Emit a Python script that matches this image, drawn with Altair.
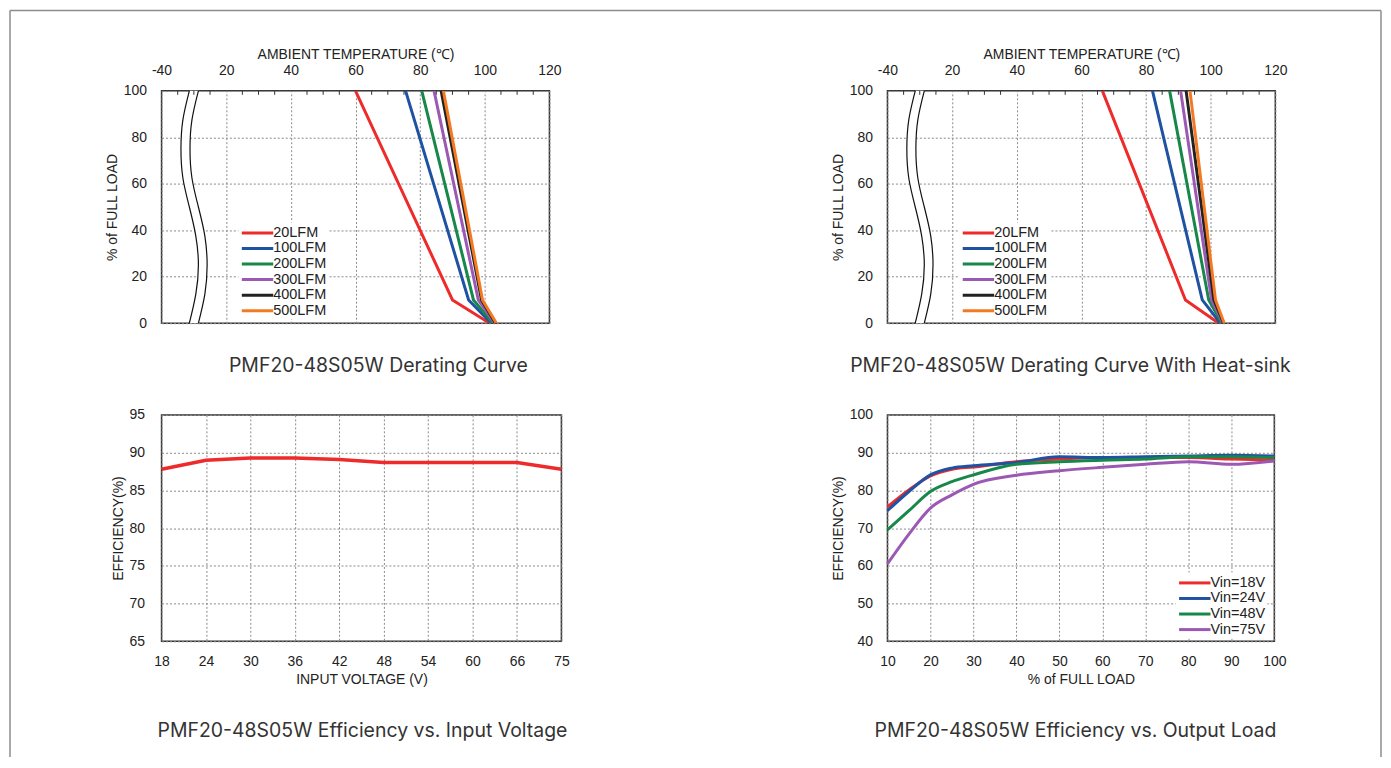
import altair as alt
import pandas as pd

FONT = "Liberation Sans"
CAP_FONT = "Inter"
TXT = "#222222"

# ---------------- data ----------------
airflow = ["20LFM", "100LFM", "200LFM", "300LFM", "400LFM", "500LFM"]
airflow_colors = ["#ee2a2a", "#1f52a3", "#17874a", "#9b59b4", "#222222", "#f47a22"]
load_pts = [100, 10, 0]

# derating without heat-sink: temperature at 100 %, 10 %, 0 % load
t_nohs_20 = [60.0, 90.0, 101.5]
t_nohs_100 = [75.5, 95.0, 102.0]
t_nohs_200 = [80.5, 96.5, 102.5]
t_nohs_300 = [84.3, 98.0, 103.0]
t_nohs_400 = [86.5, 99.0, 103.3]
t_nohs_500 = [87.2, 99.3, 103.6]

# derating with heat-sink
t_hs_20 = [66.5, 92.2, 102.5]
t_hs_100 = [82.0, 97.4, 103.0]
t_hs_200 = [87.3, 99.4, 103.5]
t_hs_300 = [90.7, 100.3, 103.8]
t_hs_400 = [92.4, 101.0, 104.0]
t_hs_500 = [93.6, 101.5, 104.2]

temp_ticks = [0, 20, 40, 60, 80, 100, 120]
minor_ticks = [5, 10, 15, 25, 30, 35, 45, 50, 55, 65, 70, 75, 85, 90, 95, 105, 110, 115]

# axis-break symbol (double wavy line)
brk_load = [0, 12.5, 25, 37.5, 50, 62.5, 75, 87.5, 100]
brk_left = [8.6, 10.6, 11.4, 10.6, 8.6, 6.6, 6.0, 6.6, 8.6]
brk_right = [11.4, 13.4, 14.1, 13.4, 11.4, 9.4, 8.8, 9.4, 11.4]

# efficiency vs input voltage
vin_labels = ["18", "24", "30", "36", "42", "48", "54", "60", "66", "75"]
eff_vin = [87.8, 89.0, 89.3, 89.3, 89.1, 88.7, 88.7, 88.7, 88.7, 87.8]

# efficiency vs output load
vin_series = ["Vin=18V", "Vin=24V", "Vin=48V", "Vin=75V"]
vin_colors = ["#ee2a2a", "#1f52a3", "#17874a", "#9b59b4"]
loads = [10, 15, 20, 25, 30, 40, 50, 60, 70, 80, 90, 100]
eff_18 = [75.6, 80.1, 83.8, 85.6, 86.2, 87.6, 88.3, 88.7, 88.7, 88.7, 88.3, 88.0]
eff_24 = [74.6, 79.7, 84.1, 85.9, 86.5, 87.4, 88.9, 88.7, 88.9, 89.1, 89.3, 89.1]
eff_48 = [69.5, 74.6, 79.7, 82.3, 84.1, 86.9, 87.6, 88.0, 88.3, 88.9, 88.9, 88.7]
eff_75 = [60.5, 68.4, 75.3, 78.8, 81.6, 84.0, 85.2, 86.1, 86.9, 87.6, 86.9, 87.8]

# ---------------- helpers ----------------
GRID = dict(grid=True, gridColor="#8a8a8a", gridDash=[2, 2], gridWidth=1, labelFlush=False)


def legend(x, y):
    return alt.Legend(title=None, orient="none", legendX=x, legendY=y,
                      fillColor="white", padding=2,
                      symbolType="M-1,0H3.5", symbolSize=196,
                      symbolStrokeWidth=3, labelFontSize=14.5,
                      labelFont=FONT, labelColor=TXT,
                      labelOffset=16, rowPadding=0.6)


def caption(text, dx, offset):
    return alt.TitleParams(text, orient="bottom", anchor="middle", frame="group",
                           font=CAP_FONT, fontSize=19.5, fontWeight="normal",
                           color="#333333", offset=offset, dx=dx)


def derating(series_temps, title, dx, lx):
    rows = []
    for name, temps in zip(airflow, series_temps):
        for t, l in zip(temps, load_pts):
            rows.append({"series": name, "temp": t, "load": l})
    df = pd.DataFrame(rows)
    xs = alt.Scale(domain=[0, 120], nice=False, zero=False)
    ys = alt.Scale(domain=[0, 100], nice=False)

    brk = pd.DataFrame({"load": brk_load, "temp": brk_left, "temp2": brk_right})
    brk_long = pd.concat([
        pd.DataFrame({"load": brk_load, "temp": brk_left, "side": "l"}),
        pd.DataFrame({"load": brk_load, "temp": brk_right, "side": "r"}),
    ])
    ticks = pd.DataFrame({"temp": minor_ticks})

    xaxis = alt.Axis(orient="top", values=temp_ticks,
                     labelExpr="datum.value == 0 ? '-40' : datum.label",
                     title="AMBIENT TEMPERATURE (\u2103)",
                     labelPadding=13, titlePadding=2, **GRID)
    yaxis = alt.Axis(values=[0, 20, 40, 60, 80, 100], title="% of FULL LOAD",
                     labelPadding=15, titlePadding=4, **GRID)

    lines = alt.Chart(df).mark_line(strokeWidth=3, clip=True).encode(
        x=alt.X("temp:Q", scale=xs, axis=xaxis),
        y=alt.Y("load:Q", scale=ys, axis=yaxis),
        color=alt.Color("series:N", scale=alt.Scale(domain=airflow, range=airflow_colors),
                        legend=legend(lx, 132)),
        order=alt.Order("load:Q", sort="descending"),
    )
    area = alt.Chart(brk).mark_area(orient="horizontal", color="white", interpolate="natural").encode(
        y=alt.Y("load:Q", scale=ys, axis=yaxis),
        x=alt.X("temp:Q", scale=xs, axis=xaxis),
        x2="temp2:Q",
    )
    wave = alt.Chart(brk_long).mark_line(interpolate="natural", color="#111111", strokeWidth=1.2).encode(
        x=alt.X("temp:Q", scale=xs, axis=xaxis),
        y=alt.Y("load:Q", scale=ys, axis=yaxis),
        detail="side:N",
        order="load:Q",
    )
    mt = alt.Chart(ticks).mark_rule(color="#333333", strokeWidth=1).encode(
        x=alt.X("temp:Q", scale=xs, axis=xaxis),
        y=alt.value(0), y2=alt.value(4),
    )
    return alt.layer(area, wave, mt, lines).properties(
        width=389, height=233, title=caption(title, dx, 27))


tl = derating([t_nohs_20, t_nohs_100, t_nohs_200, t_nohs_300, t_nohs_400, t_nohs_500],
              "PMF20-48S05W Derating Curve", 23, 77)
tr = derating([t_hs_20, t_hs_100, t_hs_200, t_hs_300, t_hs_400, t_hs_500],
              "PMF20-48S05W Derating Curve With Heat-sink", -11, 72)

df_vin = pd.DataFrame({"vin": vin_labels, "eff": eff_vin})
bl = alt.Chart(df_vin).mark_line(color="#ee2a2a", strokeWidth=3.5).encode(
    x=alt.X("vin:O", sort=vin_labels, scale=alt.Scale(type="point", padding=0),
            axis=alt.Axis(labelAngle=0, title="INPUT VOLTAGE (V)", labelPadding=13,
                          titlePadding=4, **GRID)),
    y=alt.Y("eff:Q", scale=alt.Scale(domain=[65, 95], nice=False, zero=False),
            axis=alt.Axis(values=[65, 70, 75, 80, 85, 90, 95], title="EFFICIENCY(%)",
                          labelPadding=17, titlePadding=4, **GRID)),
).properties(width=401, height=227,
             title=caption("PMF20-48S05W Efficiency vs. Input Voltage", 1, 36))

rows = []
for name, vals in zip(vin_series, [eff_18, eff_24, eff_48, eff_75]):
    for l, e in zip(loads, vals):
        rows.append({"series": name, "load": l, "eff": e})
df_load = pd.DataFrame(rows)
br = alt.Chart(df_load).mark_line(strokeWidth=3, interpolate="monotone").encode(
    x=alt.X("load:Q", scale=alt.Scale(domain=[10, 100], nice=False, zero=False),
            axis=alt.Axis(values=list(range(10, 101, 10)), title="% of FULL LOAD",
                          labelPadding=13, titlePadding=4, **GRID)),
    y=alt.Y("eff:Q", scale=alt.Scale(domain=[40, 100], nice=False, zero=False),
            axis=alt.Axis(values=list(range(40, 101, 10)), title="EFFICIENCY(%)",
                          labelPadding=15, titlePadding=4, **GRID)),
    color=alt.Color("series:N", scale=alt.Scale(domain=vin_series, range=vin_colors),
                    legend=legend(289, 158)),
).properties(width=388, height=227,
             title=caption("PMF20-48S05W Efficiency vs. Output Load", -5.5, 36))

# page frame round the whole figure: a decoration drawn from an empty cell
# that sits below the first column (offsets measured from that cell)
frame_df = pd.DataFrame({"k": [0]})
FRAME = dict(color="#8c8c8c", strokeWidth=1.5)
frame_left = alt.Chart(frame_df).mark_rule(**FRAME).encode(
    x=alt.value(-152), y=alt.value(-724.5), y2=alt.value(24))
frame_right = alt.Chart(frame_df).mark_rule(**FRAME).encode(
    x=alt.value(1223), y=alt.value(-724.5), y2=alt.value(24))
frame_top = alt.Chart(frame_df).mark_rule(**FRAME).encode(
    x=alt.value(-152), x2=alt.value(1223), y=alt.value(-724.5))
frame = alt.layer(frame_left, frame_right, frame_top).properties(
    width=1, height=1, view=alt.ViewBackground(stroke="transparent"))

chart = alt.concat(tl, tr, bl, br, frame, columns=2, bounds="flush",
                   spacing={"column": 327, "row": 92}).resolve_scale(color="independent").properties(
    padding={"left": 0, "top": 0, "right": 0, "bottom": 0},
    background="white",
).configure_view(stroke="#333333", strokeWidth=1.5).configure_axis(
    domain=False, ticks=False, labelFont=FONT, labelFontSize=14, labelColor=TXT,
    titleFont=FONT, titleFontSize=14, titleFontWeight="normal", titleColor=TXT,
)

chart.save("out.html", embed_options={"renderer": "svg", "actions": False})
